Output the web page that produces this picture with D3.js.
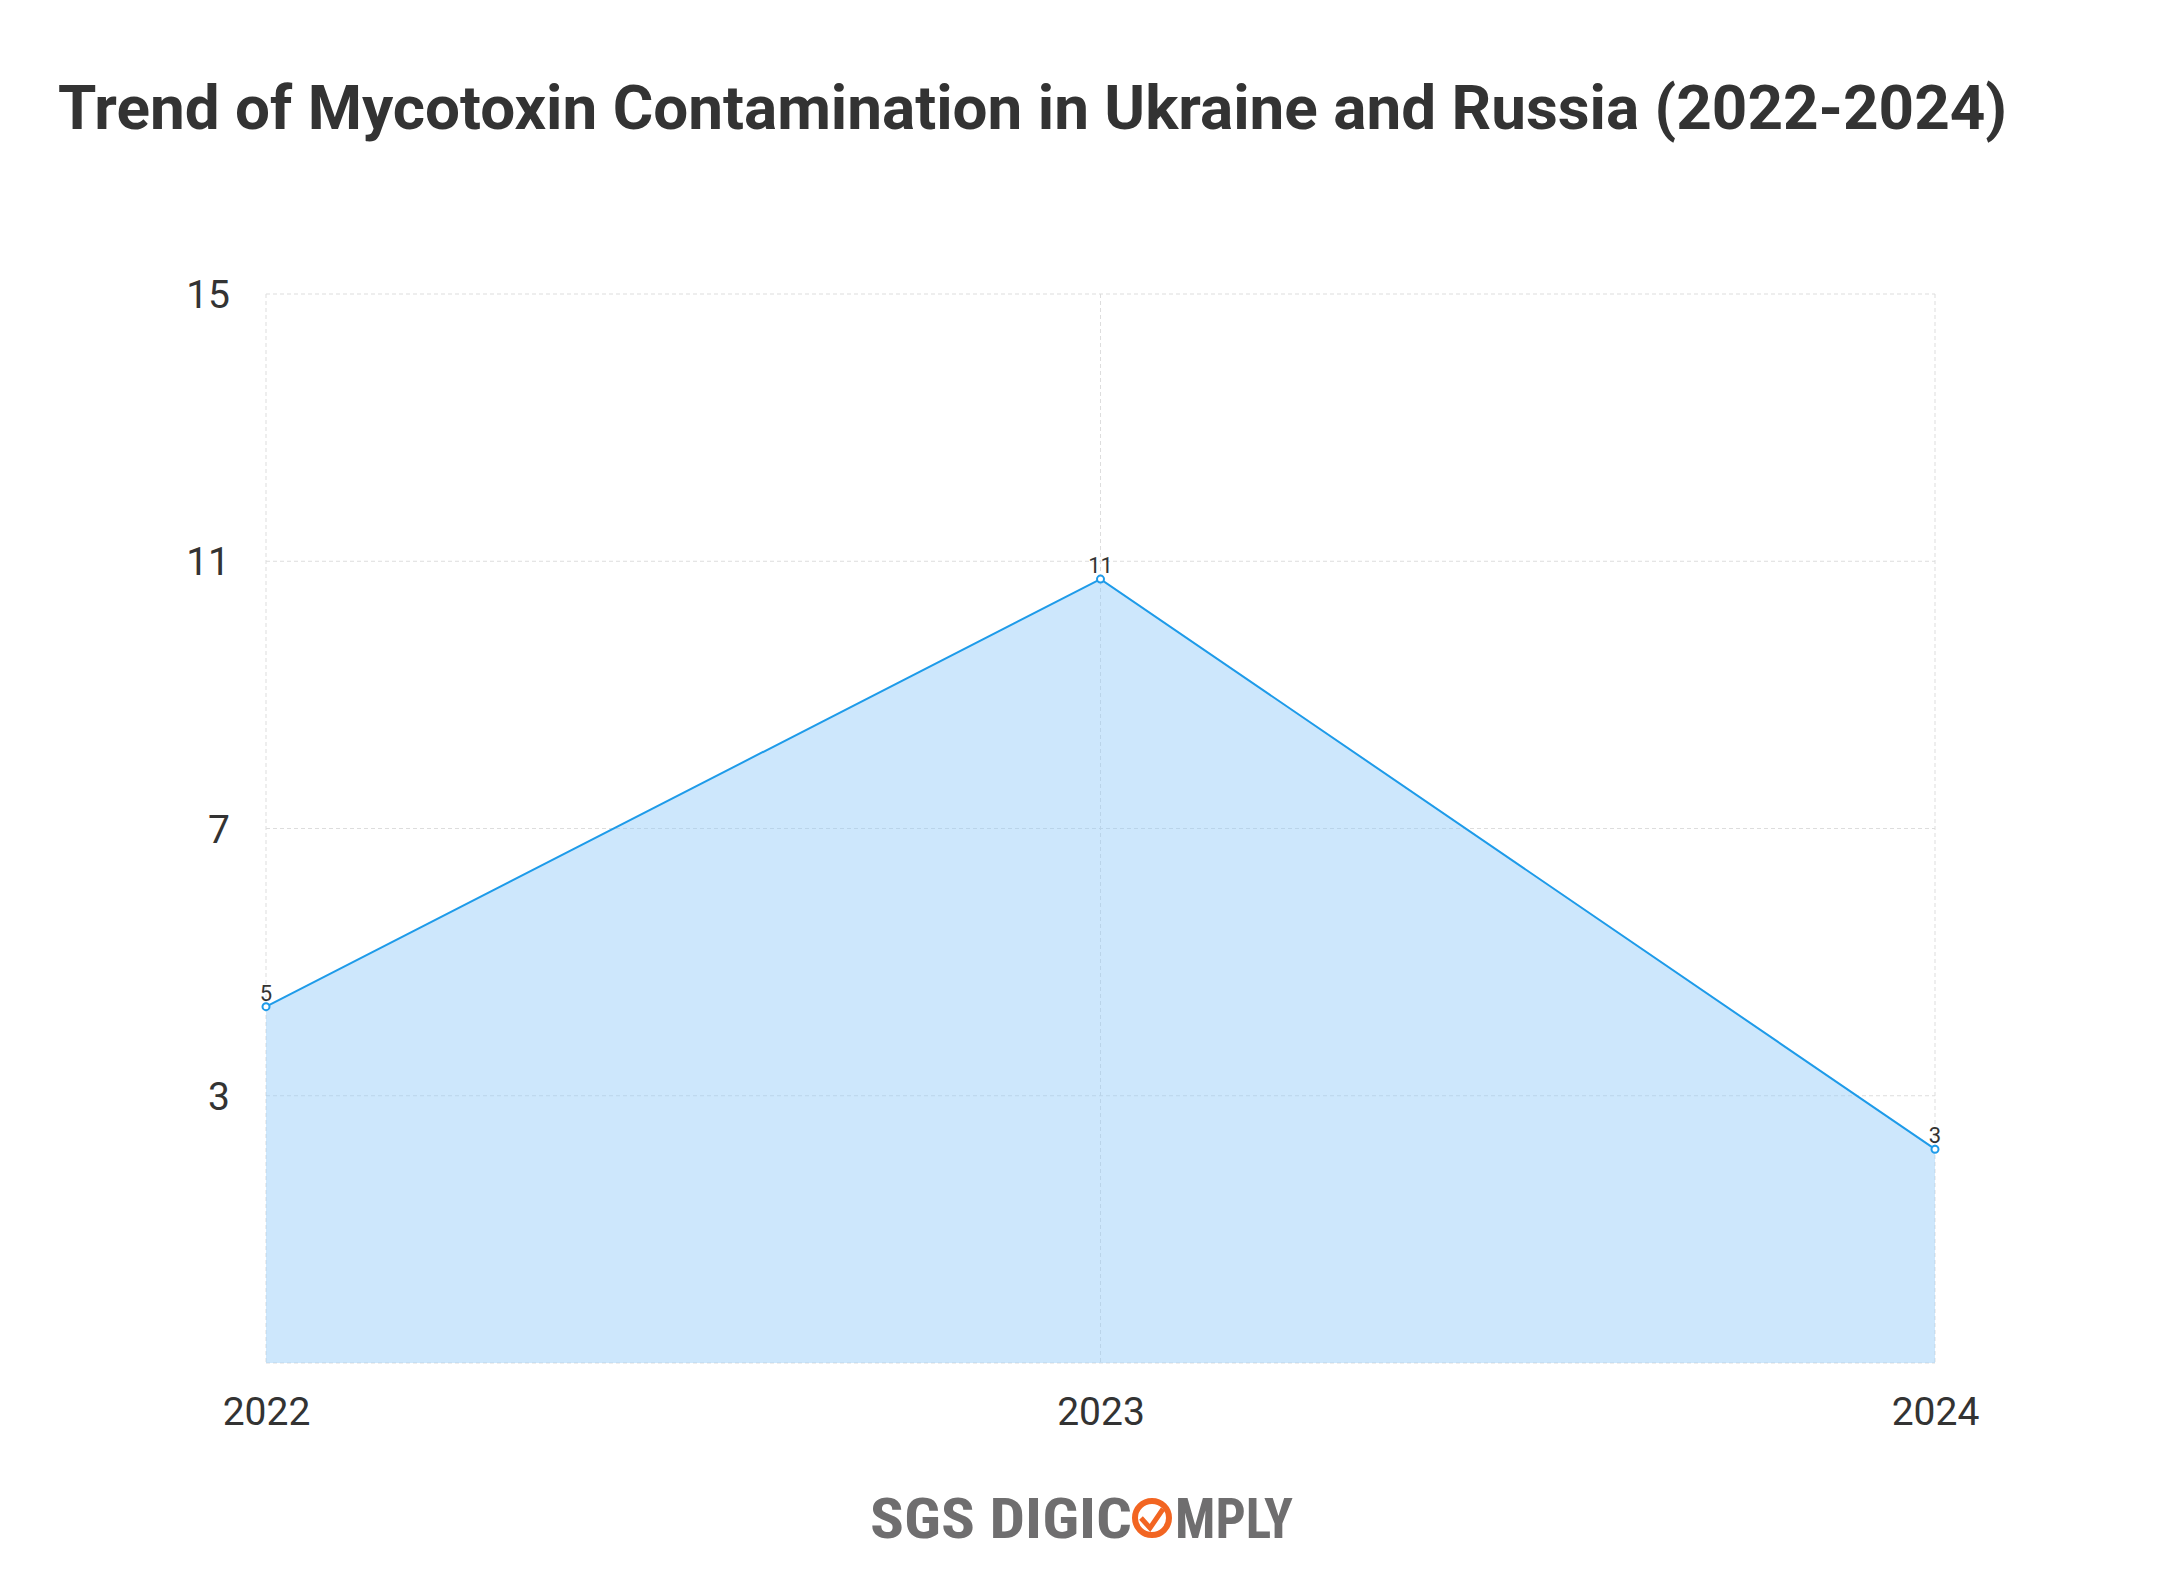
<!DOCTYPE html>
<html><head><meta charset="utf-8">
<script src="https://cdn.jsdelivr.net/npm/d3@7"></script>
<style>body{margin:0;background:#fff}</style></head>
<body><svg id="c" width="2161" height="1587"></svg>
<script>
const years = ["2022","2023","2024"];
const counts = [5, 11, 3];
const yTicks = [0, 3.75, 7.5, 11.25, 15];
const titleText = "Trend of Mycotoxin Contamination in Ukraine and Russia (2022-2024)";

const svg = d3.select("#c");
const m = {l:266, r:1935, t:294, b:1363};
const x = d3.scalePoint().domain(years).range([m.l, m.r]);
const y = d3.scaleLinear().domain([0,15]).range([m.b, m.t]);
const font = "Roboto, sans-serif";

svg.append("text").attr("x",58).attr("y",129).attr("font-family",font).attr("font-weight",700)
  .attr("font-size",62).attr("fill","#333").text(titleText);

const g = svg.append("g");
yTicks.forEach(t=>g.append("line").attr("x1",m.l).attr("x2",m.r).attr("y1",y(t)).attr("y2",y(t))
  .attr("stroke","#ddd").attr("stroke-dasharray","4,3"));
years.forEach(d=>g.append("line").attr("x1",x(d)).attr("x2",x(d)).attr("y1",m.t).attr("y2",m.b)
  .attr("stroke","#ddd").attr("stroke-dasharray","4,3"));

const data = years.map((d,i)=>({d, v:counts[i]}));
svg.append("path").datum(data).attr("fill","rgba(144,202,249,0.45)")
  .attr("d", d3.area().x(p=>x(p.d)).y0(y(0)).y1(p=>y(p.v)));
svg.append("path").datum(data).attr("fill","none").attr("stroke","#1e9be9").attr("stroke-width",2)
  .attr("d", d3.line().x(p=>x(p.d)).y(p=>y(p.v)));
svg.selectAll("circle.p").data(data).join("circle").attr("cx",p=>x(p.d)).attr("cy",p=>y(p.v))
  .attr("r",3.5).attr("fill","#fff").attr("stroke","#1e9be9").attr("stroke-width",2);
svg.selectAll("text.v").data(data).join("text").attr("x",p=>x(p.d)).attr("y",p=>y(p.v)-6)
  .attr("text-anchor","middle").attr("font-family",font).attr("font-size",22).attr("fill","#333").text(p=>p.v);

const yAxis = d3.axisLeft(y).tickValues(yTicks.filter(t=>t>0)).tickFormat(t=>Math.floor(t)).tickSize(0).tickPadding(36);
const ya = svg.append("g").attr("transform",`translate(${m.l},0)`).call(yAxis);
ya.select(".domain").remove();
ya.selectAll("text").attr("font-family",font).attr("font-size",39).attr("fill","#333").attr("dy","0.35em");
const xAxis = d3.axisBottom(x).tickSize(0).tickPadding(34);
const xa = svg.append("g").attr("transform",`translate(0,${m.b})`).call(xAxis);
xa.select(".domain").remove();
xa.selectAll("text").attr("font-family",font).attr("font-size",39).attr("fill","#333");

const lg = svg.append("g");
const lf = "'Liberation Sans Narrow', 'Roboto Condensed', Roboto, sans-serif";
lg.append("text").attr("x",870).attr("y",1538).attr("font-family",lf).attr("font-weight",700)
  .attr("font-size",56).attr("fill","#6f6e6f").attr("textLength",262).attr("lengthAdjust","spacingAndGlyphs").text("SGS DIGIC");
lg.append("circle").attr("cx",1152).attr("cy",1518).attr("r",17).attr("fill","none").attr("stroke","#f26522").attr("stroke-width",6);
lg.append("path").attr("d","M1141,1518 L1150,1528 L1163,1509").attr("fill","none").attr("stroke","#f26522").attr("stroke-width",5);
lg.append("text").attr("x",1175).attr("y",1538).attr("font-family",lf).attr("font-weight",700)
  .attr("font-size",56).attr("fill","#6f6e6f").attr("textLength",118).attr("lengthAdjust","spacingAndGlyphs").text("MPLY");
</script></body></html>
